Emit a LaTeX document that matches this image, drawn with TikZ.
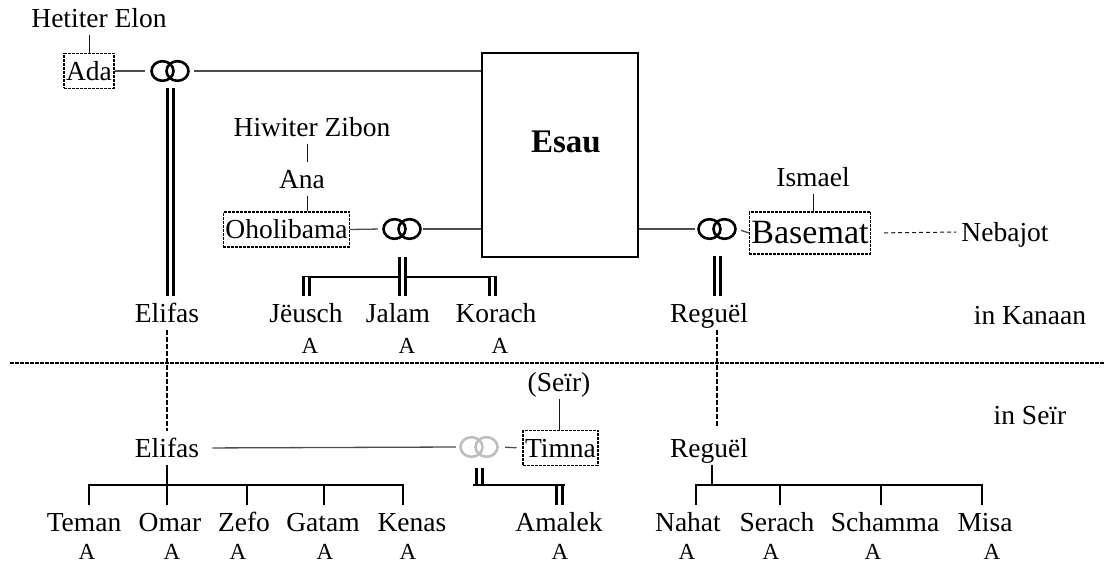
\documentclass[tikz,border=0pt]{standalone}
\usepackage{fontspec}
\setmainfont{Liberation Serif}

\newcommand\wedring[2][black]{%
  \draw[#1,line width=2.6pt] ([xshift=-7.5pt]#2.center) ellipse (11pt and 9.8pt)
    ([xshift=7.5pt]#2.center) ellipse (11pt and 9.8pt);}

\begin{document}
\begin{tikzpicture}[x=1pt,y=-1pt,
  nm/.style={font=\fontsize{27.5}{30}\selectfont,inner sep=0pt,text height=26pt,text depth=7pt},
  tag/.style={font=\fontsize{23}{26}\selectfont,inner sep=0pt},
  wife/.style={nm,draw,dash pattern=on 3pt off 1pt,line width=1.2pt,inner xsep=2pt,inner ysep=1pt},
  rings/.style={minimum width=40pt,minimum height=22pt,inner sep=0pt},
  link/.style={black!70,line width=1.3pt},
  fine/.style={black!90,line width=1pt},
  bar/.style={line width=2.2pt,line cap=rect},
  tick/.style={line width=1.4pt},
  dbl/.style={double,double distance=3pt,line width=3pt},
  seam/.style={line width=1.6pt,dash pattern=on 5pt off 2pt}]
\useasboundingbox (0,0) rectangle (1104,569);

% Kanaan
\node[nm] (hetiter) at (99,18) {Hetiter Elon};
\node[wife] (ada) at (89,71) {Ada};
\node[rings] (ringAda) at (170,71) {};
\node[draw,line width=1.5pt,minimum width=156pt,minimum height=204pt] (esau) at (560,155) {};
\node[font=\fontsize{33}{36}\selectfont\bfseries] (esauname) at (566,142) {Esau};
\node[nm] (hiwiter) at (312,127) {Hiwiter Zibon};
\node[nm] (ana) at (302,179) {Ana};
\coordinate (anaAxis) at (307,0);
\node[wife] (oholi) at (286.5,229.5) {Oholibama};
\node[rings] (ringOholi) at (402,229) {};
\node[nm] (ismael) at (813,177) {Ismael};
\node[wife,font=\fontsize{34}{38}\selectfont,text height=31pt,text depth=9pt] (basemat) at (810,233) {Basemat};
\node[rings] (ringBasemat) at (717,229) {};
\node[nm] (nebajot) at (1005,232) {Nebajot};

\node[nm] (elifasK) at (167,313) {Elifas};
\node[nm] (jeusch) at (306,313) {Jëusch};
\node[nm] (jalam) at (398,313) {Jalam};
\node[nm] (korach) at (496,313) {Korach};
\node[nm] (reguelK) at (709,313) {Reguël};
\node[nm] (kanaan) at (1030,315) {in Kanaan};
\node[tag] (aJeusch) at (310,346) {A};
\node[tag] (aJalam) at (407,346) {A};
\node[tag] (aKorach) at (500,346) {A};

\wedring{ringAda}
\wedring{ringOholi}
\wedring{ringBasemat}

\draw[fine] (ada.north) -- (ada.north |- hetiter.south);
\draw[link,shorten >=5pt] (ada.east) -- (ringAda.west);
\draw[link,shorten <=4pt] (ringAda.east) -- (esau.west |- ringAda.east);
\draw[dbl,shorten <=6pt] (ringAda.south) -- (ringAda.south |- elifasK.north);

\draw[fine] (hiwiter.south -| anaAxis) -- (ana.north -| anaAxis);
\draw[fine] (ana.south -| anaAxis) -- (oholi.north -| anaAxis);
\draw[link,shorten >=4pt] (oholi.east) -- (ringOholi.west);
\draw[link,shorten <=1pt] (ringOholi.east) -- (esau.west |- ringOholi.east);
\coordinate (ohBar) at (0,277);
\draw[bar,line cap=butt] ([xshift=-4.5pt]jeusch.north |- ohBar) -- ([xshift=1pt]korach.north |- ohBar);
\draw[dbl,shorten <=17pt] (ringOholi.south) -- (ringOholi.south |- jalam.north);
\draw[dbl] (jeusch.north) -- (jeusch.north |- ohBar);
\draw[dbl] ([xshift=-3.5pt]korach.north) -- ([xshift=-3.5pt]korach.north |- ohBar);

\draw[link,shorten >=2pt] (esau.east |- ringBasemat.west) -- (ringBasemat.west);
\draw[link,shorten <=4pt] (ringBasemat.east) -- (basemat.west);
\draw[fine] (ismael.south) -- (ismael.south |- basemat.north);
\draw[fine,dash pattern=on 4pt off 3pt,shorten <=13pt,shorten >=5pt] (basemat.east) -- (nebajot.west);
\draw[dbl,shorten <=16pt] (ringBasemat.south) -- (ringBasemat.south |- reguelK.north);

% Seir
\node[nm] (seir) at (559,382) {(Seïr)};
\node[wife] (timna) at (560.5,448) {Timna};
\node[rings] (ringTimna) at (479,447) {};
\node[nm] (elifasS) at (167,448) {Elifas};
\node[nm] (reguelS) at (709,448) {Reguël};
\node[nm] (seirland) at (1030,415) {in Seïr};
\wedring[black!25]{ringTimna}

% Grenze
\draw[line width=1.2pt,dash pattern=on 4pt off 1pt] (10,363) -- (1104,363);
\draw[seam] (elifasK.south) -- (elifasS.north);
\draw[seam,shorten >=4pt] ([xshift=8pt]reguelK.south) -- ([xshift=8pt]reguelS.north);

\foreach \c/\t/\x/\a in {teman/Teman/84/87, omar/Omar/170/172, zefo/Zefo/244/238,
    gatam/Gatam/323/325, kenas/Kenas/412/408, amalek/Amalek/559/560,
    nahat/Nahat/688/687, serach/Serach/777/771, schamma/Schamma/885/873, misa/Misa/985/992}{
  \node[nm] (\c) at (\x,522) {\t};
  \node[tag] (a\c) at (\a,552) {A};
}

\draw[fine] (seir.south) -- (seir.south |- timna.north);
\draw[link,shorten <=13pt,shorten >=3pt] (elifasS.east) -- (ringTimna.west);
\draw[link,shorten <=6pt,shorten >=6pt] (ringTimna.east) -- (timna.west);

\coordinate (lowBar) at (0,485);
\draw[dbl,shorten <=10pt] (ringTimna.south) -- (ringTimna.south |- lowBar);
\draw[dbl] (amalek.north) -- (amalek.north |- lowBar);
\draw[bar] ([xshift=-4.5pt]ringTimna.south |- lowBar) -- ([xshift=4.5pt]amalek.north |- lowBar);

\draw[tick] (elifasS.south) -- (elifasS.south |- lowBar);
\foreach \c/\d in {teman/5,omar/-3,zefo/3,gatam/1,kenas/-9}
  \draw[tick] ([xshift=\d pt]\c.north) -- ([xshift=\d pt]\c.north |- lowBar);
\draw[bar] ([xshift=5pt]teman.north |- lowBar) -- ([xshift=-9pt]kenas.north |- lowBar);

\draw[tick] ([xshift=3pt]reguelS.south) -- ([xshift=3pt]reguelS.south |- lowBar);
\foreach \c/\d in {nahat/8,serach/3,schamma/-4,misa/-3}
  \draw[tick] ([xshift=\d pt]\c.north) -- ([xshift=\d pt]\c.north |- lowBar);
\draw[bar] ([xshift=8pt]nahat.north |- lowBar) -- ([xshift=-3pt]misa.north |- lowBar);
\end{tikzpicture}
\end{document}
